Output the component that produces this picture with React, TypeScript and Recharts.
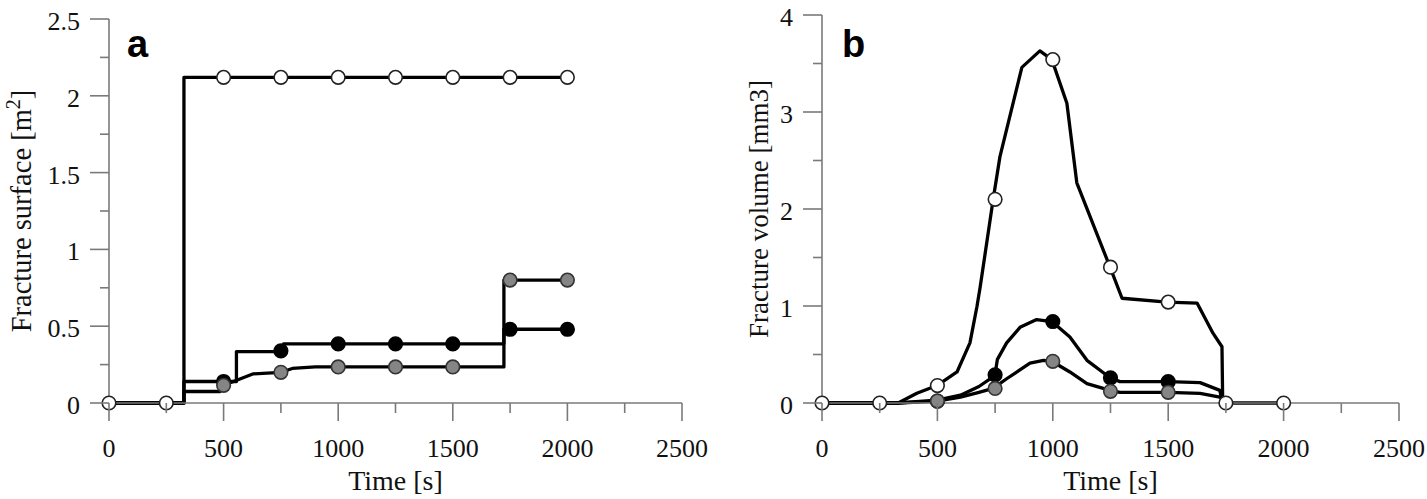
import { ComposedChart, Label, Line, Scatter, XAxis, YAxis } from 'recharts';

type Pt = { x: number; y: number };
const pts = (arr: number[][]): Pt[] => arr.map(([x, y]) => ({ x, y }));

// ticks
const timeTicks = [0, 250, 500, 750, 1000, 1250, 1500, 1750, 2000, 2250, 2500];
const surfaceTicks = [0, 0.25, 0.5, 0.75, 1, 1.25, 1.5, 1.75, 2, 2.25, 2.5];
const volumeTicks = [0, 0.5, 1, 1.5, 2, 2.5, 3, 3.5, 4];

// panel a – fracture surface [m2]
const aOpenLine = [[0, 0], [250, 0], [327, 0], [327, 2.12], [2000, 2.12]];
const aOpenMarks = [[0, 0], [250, 0], [500, 2.12], [750, 2.12], [1000, 2.12], [1250, 2.12], [1500, 2.12], [1750, 2.12], [2000, 2.12]];
const aBlackLine = [[0, 0], [327, 0], [327, 0.14], [556, 0.14], [556, 0.335], [758, 0.335], [762, 0.385], [1723, 0.385], [1723, 0.48], [2000, 0.48]];
const aBlackMarks = [[500, 0.14], [750, 0.34], [1000, 0.385], [1250, 0.385], [1500, 0.385], [1750, 0.48], [2000, 0.48]];
const aGrayLine = [[0, 0], [327, 0], [327, 0.075], [485, 0.075], [500, 0.115], [560, 0.15], [630, 0.19], [750, 0.2], [800, 0.225], [900, 0.235], [1723, 0.235], [1723, 0.8], [2000, 0.8]];
const aGrayMarks = [[500, 0.115], [750, 0.2], [1000, 0.235], [1250, 0.235], [1500, 0.235], [1750, 0.8], [2000, 0.8]];

// panel b – fracture volume [mm3]
const bOpenLine = [[0, 0], [250, 0], [330, 0], [411, 0.1], [498, 0.18], [585, 0.32], [641, 0.62], [671, 0.99], [685, 1.19], [741, 2.09], [771, 2.54], [866, 3.46], [944, 3.63], [996, 3.54], [1061, 3.09], [1104, 2.27], [1248, 1.4], [1300, 1.08], [1495, 1.04], [1625, 1.03], [1694, 0.72], [1733, 0.58], [1736, 0.03], [1750, 0], [2000, 0]];
const bOpenMarks = [[0, 0], [250, 0], [500, 0.18], [750, 2.1], [1000, 3.54], [1250, 1.4], [1500, 1.04], [1750, 0], [2000, 0]];
const bBlackLine = [[0, 0], [330, 0], [498, 0.03], [600, 0.08], [680, 0.17], [741, 0.27], [752, 0.33], [760, 0.45], [800, 0.62], [858, 0.78], [930, 0.86], [996, 0.84], [1074, 0.68], [1148, 0.44], [1248, 0.26], [1291, 0.22], [1499, 0.22], [1638, 0.21], [1724, 0.13], [1733, 0.01], [1750, 0]];
const bBlackMarks = [[500, 0.02], [750, 0.29], [1000, 0.84], [1250, 0.26], [1500, 0.22]];
const bGrayLine = [[0, 0], [330, 0], [498, 0.02], [600, 0.06], [680, 0.11], [741, 0.15], [800, 0.25], [901, 0.41], [960, 0.44], [996, 0.43], [1074, 0.32], [1148, 0.2], [1248, 0.13], [1291, 0.11], [1499, 0.11], [1638, 0.1], [1724, 0.06], [1750, 0]];
const bGrayMarks = [[500, 0.02], [750, 0.15], [1000, 0.43], [1250, 0.12], [1500, 0.11]];

const SERIF = "'Liberation Serif', 'Times New Roman', serif";
const AXIS = '#7a7a7a';

const XTick = (props: any) => {
  const { x, y, payload } = props;
  const major = payload.value % 500 === 0;
  return (
    <g>
      <line x1={x} x2={x} y1={y} y2={y + (major ? 18 : 10)} stroke={AXIS} strokeWidth={1.6} />
      {major && (
        <text x={x} y={y + 54} textAnchor="middle" fontFamily={SERIF} fontSize={26} fill="#111">
          {payload.value}
        </text>
      )}
    </g>
  );
};

const makeYTick = (step: number) => (props: any) => {
  const { x, y, payload } = props;
  const major = Math.abs(payload.value / step - Math.round(payload.value / step)) < 1e-6;
  return (
    <g>
      <line x1={x - (major ? 19 : 9)} x2={x} y1={y} y2={y} stroke={AXIS} strokeWidth={1.6} />
      {major && (
        <text x={x - 29} y={y + 11} textAnchor="end" fontFamily={SERIF} fontSize={26} fill="#111">
          {payload.value}
        </text>
      )}
    </g>
  );
};

const circle = (fill: string, stroke: string) => (p: any) => (
  <circle cx={p.cx} cy={p.cy} r={6.8} fill={fill} stroke={stroke} strokeWidth={1.6} />
);

const timeLabel = (props: any) => {
  const vb = props.viewBox;
  return (
    <text x={vb.x + vb.width / 2} y={vb.y + 87} textAnchor="middle" fontFamily={SERIF} fontSize={28} fill="#111">
      Time [s]
    </text>
  );
};

const yLabel = (baseX: number, size: number, children: any) => (props: any) => {
  const vb = props.viewBox;
  const cy = vb.y + vb.height / 2;
  return (
    <text
      x={baseX}
      y={cy}
      transform={`rotate(-90 ${baseX} ${cy})`}
      textAnchor="middle"
      fontFamily={SERIF}
      fontSize={size}
      fill="#111"
    >
      {children}
    </text>
  );
};

function Panel(props: {
  width: number;
  yWidth: number;
  top: number;
  yMax: number;
  yTicks: number[];
  yStep: number;
  yTitle: any;
  yTitleX: number;
  yTitleSize: number;
  lines: number[][][];
  black: number[][];
  gray: number[][];
  open: number[][];
}) {
  const { width, yWidth, top, yMax, yTicks, yStep, yTitle, yTitleX, yTitleSize, lines, black, gray, open } = props;
  return (
    <ComposedChart width={width} height={499} margin={{ top, right: 28, bottom: 36, left: 0 }}>
      <XAxis
        type="number"
        dataKey="x"
        domain={[0, 2500]}
        ticks={timeTicks}
        interval={0}
        height={60}
        tickSize={0}
        tickMargin={0}
        tickLine={false}
        axisLine={{ stroke: AXIS, strokeWidth: 1.6 }}
        tick={XTick}
      >
        <Label content={timeLabel} />
      </XAxis>
      <YAxis
        type="number"
        dataKey="y"
        domain={[0, yMax]}
        ticks={yTicks}
        interval={0}
        width={yWidth}
        tickSize={0}
        tickMargin={0}
        tickLine={false}
        axisLine={{ stroke: AXIS, strokeWidth: 1.6 }}
        tick={makeYTick(yStep)}
      >
        <Label content={yLabel(yTitleX, yTitleSize, yTitle)} />
      </YAxis>
      {lines.map((l, i) => (
        <Line
          key={i}
          data={pts(l)}
          dataKey="y"
          type="linear"
          stroke="#000"
          strokeWidth={3.3}
          strokeLinejoin="round"
          dot={false}
          activeDot={false}
          isAnimationActive={false}
        />
      ))}
      <Scatter data={pts(black)} dataKey="y" shape={circle('#000', '#000')} isAnimationActive={false} />
      <Scatter data={pts(gray)} dataKey="y" shape={circle('#858585', '#333')} isAnimationActive={false} />
      <Scatter data={pts(open)} dataKey="y" shape={circle('#fff', '#222')} isAnimationActive={false} />
    </ComposedChart>
  );
}

export default function App() {
  return (
    <div style={{ position: 'absolute', left: 0, top: 0, width: 1427, height: 499, background: '#fff', overflow: 'hidden' }}>
      <div style={{ position: 'absolute', left: 0, top: 0 }}>
        <Panel
          width={710}
          yWidth={109}
          top={19}
          yMax={2.5}
          yTicks={surfaceTicks}
          yStep={0.5}
          yTitle={
            <>
              Fracture surface [m
              <tspan dy={-11} fontSize={20}>2</tspan>
              <tspan dy={11}>]</tspan>
            </>
          }
          yTitleX={31}
          yTitleSize={28.5}
          lines={[aBlackLine, aGrayLine, aOpenLine]}
          black={aBlackMarks}
          gray={aGrayMarks}
          open={aOpenMarks}
        />
      </div>
      <div style={{ position: 'absolute', left: 710, top: 0 }}>
        <Panel
          width={717}
          yWidth={112}
          top={15}
          yMax={4}
          yTicks={volumeTicks}
          yStep={1}
          yTitle="Fracture volume [mm3]"
          yTitleX={58}
          yTitleSize={27}
          lines={[bBlackLine, bGrayLine, bOpenLine]}
          black={bBlackMarks}
          gray={bGrayMarks}
          open={bOpenMarks}
        />
      </div>
      <svg width={1427} height={499} style={{ position: 'absolute', left: 0, top: 0, pointerEvents: 'none' }}>
        <text x={127} y={57} fontFamily="'Liberation Sans', Arial, sans-serif" fontWeight="bold" fontSize={38} fill="#000">
          a
        </text>
        <text x={842} y={57} fontFamily="'Liberation Sans', Arial, sans-serif" fontWeight="bold" fontSize={38} fill="#000">
          b
        </text>
      </svg>
    </div>
  );
}
